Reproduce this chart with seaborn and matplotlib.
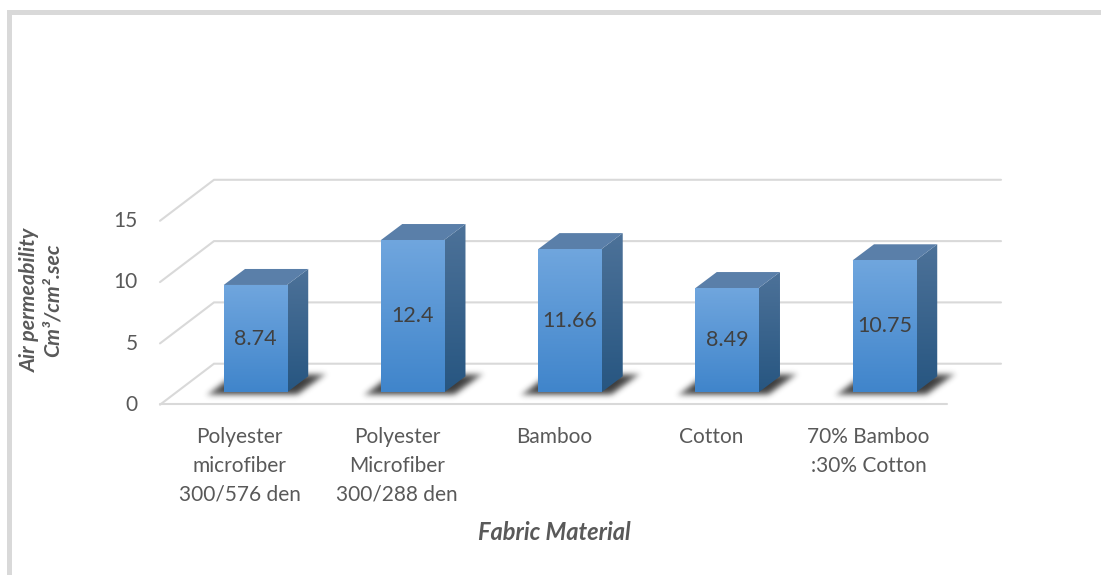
import numpy as np
import pandas as pd
import seaborn as sns
import matplotlib
matplotlib.use("Agg")
import matplotlib.pyplot as plt
from matplotlib.patches import Polygon, Rectangle
from matplotlib.path import Path
from matplotlib.transforms import Affine2D

# ---- data ----
categories = ["Polyester\nmicrofiber\n300/576 den", "Polyester\nMicrofiber\n300/288 den",
              "Bamboo", "Cotton", "70% Bamboo\n:30% Cotton"]
air_permeability = [8.74, 12.4, 11.66, 8.49, 10.75]
y_ticks = [0, 5, 10, 15]
x_title = "Fabric Material"
y_title = "Air permeability\nCm³/cm².sec"

# ---- style ----
W, H = 1101, 575
GREY = "#d9d9d9"
TEXT = "#595959"
PT = 100 / 72
sns.set_theme(style="white")
plt.rcParams["font.family"] = ["Lato", "DejaVu Sans"]

fig = plt.figure(figsize=(W / 100, H / 100), dpi=100, facecolor="white")
# Pixel-addressed backdrop that carries the pseudo-3D walls, shadows and bar sides
px = fig.add_axes([0, 0, 1, 1], zorder=0)
px.set_xlim(0, W)
px.set_ylim(H, 0)
px.axis("off")
px.set_autoscale_on(False)

# Main axes: its data scale drives the bars, ticks and labels
L, R, B, T = 176.7, 962.95, 392.3, 208.1
ax = fig.add_axes([L / W, 1 - B / H, (R - L) / W, (B - T) / H], zorder=1)
ax.patch.set_alpha(0)
df = pd.DataFrame({"material": categories, "value": air_permeability})
sns.barplot(data=df, x="material", y="value", width=0.402, color="#4f8fd3",
            saturation=1, ax=ax, errorbar=None, linewidth=0, edgecolor="none")
ax.set_ylim(0, 15)
ax.set_xlim(-0.5, 4.5)
sns.despine(ax=ax, left=True, bottom=True, top=True, right=True)


def to_px(x, y):
    d = ax.transData.transform((x, y))
    return px.transData.inverted().transform(d)


def ramp(top_c, bot_c):
    c0 = np.array(matplotlib.colors.to_rgb(top_c))
    c1 = np.array(matplotlib.colors.to_rgb(bot_c))
    t = np.linspace(0, 1, 128)[:, None, None]
    return c0[None, None, :] * (1 - t) + c1[None, None, :] * t


# Back wall and floor: grid levels taken from the y ticks
wall_scale = 12.26
for v in y_ticks:
    y_back = 363.7 - v * wall_scale
    px.plot([160, 214, 1001], [y_back + 41, y_back, y_back], color=GREY, lw=1.5,
            solid_joinstyle="miter", zorder=1)
px.plot([160, 947], [404.3, 404.3], color=GREY, lw=1.5, zorder=1)

# Outer frame
px.add_patch(Rectangle((7.3, 10), 5, H, color=GREY, lw=0, zorder=1))
px.add_patch(Rectangle((7.3, 10), W, 5, color=GREY, lw=0, zorder=1))

DX, DY = 21.3, 16
ax.set_autoscale_on(False)
for bar in list(ax.patches):
    x0, x1 = bar.get_x(), bar.get_x() + bar.get_width()
    (xl, yb) = to_px(x0, 0)
    (xr, yt) = to_px(x1, bar.get_height())

    # blurred floor shadow
    sx0, sx1, sy0, sy1 = xl - 40, xr + 70, yb - 36, yb + 18
    gx, gy = np.meshgrid(np.arange(sx0, sx1), np.arange(sy0, sy1))
    shadow = Path([(xl - 20, yb + 3), (xr + 11, yb + 3), (xr + 42, yb - 20), (xl + 10, yb - 20)])
    mask = shadow.contains_points(np.c_[gx.ravel(), gy.ravel()]).reshape(gx.shape).astype(float)
    kernel = np.exp(-0.5 * (np.arange(-11, 12) / 3.6) ** 2)
    kernel /= kernel.sum()
    mask = np.apply_along_axis(lambda r: np.convolve(r, kernel, "same"), 0, mask)
    mask = np.apply_along_axis(lambda r: np.convolve(r, kernel, "same"), 1, mask)
    rgba = np.zeros(mask.shape + (4,))
    rgba[..., :3] = 0.1
    rgba[..., 3] = np.clip(mask, 0, 1) ** 1.8 * 0.85
    px.imshow(rgba, extent=(sx0, sx1, sy1, sy0), aspect="auto", origin="upper", zorder=2,
              interpolation="bilinear")

    # side and top faces
    side = np.array([(xr, yt), (xr + DX, yt - DY), (xr + DX, yb - DY), (xr, yb)])
    im = px.imshow(ramp("#4d7299", "#275681"), extent=(xr, xr + DX, yb, yt - DY), aspect="auto",
                   origin="upper", zorder=3, interpolation="bilinear")
    im.set_clip_path(Polygon(side, closed=True, transform=px.transData))
    top = np.array([(xl, yt), (xl + DX, yt - DY), (xr + DX, yt - DY), (xr, yt)])
    px.add_patch(Polygon(top, closed=True, facecolor="#5a7fa9", edgecolor="none", zorder=3))

    # front face gradient, clipped to the seaborn bar
    im = ax.imshow(ramp("#70a6de", "#4085cb"), extent=(x0, x1, 0, bar.get_height()), aspect="auto",
                   origin="upper", zorder=bar.get_zorder() + 0.1, interpolation="bilinear")
    im.set_clip_path(bar)

ax.set_xlim(-0.5, 4.5)
ax.set_ylim(0, 15)

# Value labels at bar centres
labels = ax.bar_label(ax.containers[0], fmt="%g", label_type="center", color="#404040",
                      fontsize=15.5)
for t in labels:
    t.set_zorder(6)
    t.set_transform(t.get_transform() + Affine2D().translate(0, -1))

# Ticks: front-wall positions are shifted from the bar baseline
ax.set_yticks(y_ticks)
ax.set_xticks([i - 0.1 for i in range(len(categories))])
ax.set_xticklabels(categories)
ax.tick_params(axis="y", length=0, pad=(176.7 - 138) / PT, labelsize=15, labelcolor=TEXT)
ax.tick_params(axis="x", length=0, pad=25, labelsize=15, labelcolor=TEXT)
shift = Affine2D().translate(0, -11)
for lab in ax.get_yticklabels():
    lab.set_transform(lab.get_transform() + shift)
for lab in ax.get_xticklabels():
    lab.set_linespacing(1.55)

ax.set_xlabel(x_title, fontsize=17, fontweight="bold", fontstyle="italic", color=TEXT)
ax.xaxis.set_label_coords(554.5, 532, transform=px.transData)
ax.xaxis.label.set_va("center")
ax.set_ylabel(y_title, fontsize=15.3, fontweight="bold", fontstyle="italic", color=TEXT,
              linespacing=1.15, ha="center", va="center")
ax.yaxis.set_label_coords(41, 300, transform=px.transData)

fig.savefig("out.png", dpi=100, facecolor="white")
